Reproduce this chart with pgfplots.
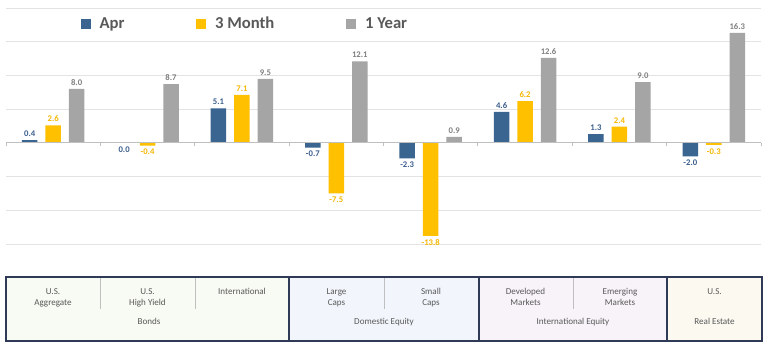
\documentclass[border=0pt]{standalone}
\usepackage{pgfplots}
\pgfplotsset{compat=1.18}
\usepackage{fontspec}
\setmainfont{Carlito}
\definecolor{cApr}{HTML}{3B6591}
\definecolor{c3M}{HTML}{FFC000}
\definecolor{c1Y}{HTML}{A5A5A5}
\definecolor{lApr}{HTML}{3B5E8C}
\definecolor{l3M}{HTML}{F5B800}
\definecolor{l1Y}{HTML}{808080}
\definecolor{gridc}{HTML}{E3E3E3}
\definecolor{zeroc}{HTML}{BFBFBF}
\definecolor{txt}{HTML}{595959}
\definecolor{framec}{HTML}{2E3A56}
\definecolor{sepc}{HTML}{BFBFBF}
\definecolor{bgB}{HTML}{F8FBF3}
\definecolor{bgD}{HTML}{F2F6FC}
\definecolor{bgI}{HTML}{F8F3F9}
\definecolor{bgR}{HTML}{FCF9F1}
\begin{document}
\begin{tikzpicture}
\path[use as bounding box, fill=white] (0pt,0pt) rectangle (576pt,-262.5pt);
\begin{axis}[
  at={(4.5pt,-183pt)}, anchor=south west,
  scale only axis, width=566.25pt, height=177pt,
  xmin=0.5, xmax=8.5, ymin=-15, ymax=20,
  ytick={-15,-10,...,20}, yticklabels={}, xtick=\empty,
  ymajorgrids, grid style={draw=gridc, line width=0.7pt},
  axis line style={draw=none}, major tick style={draw=none},
  clip=false,
  ybar, bar width=11.6pt,
  point meta=explicit symbolic,
  visualization depends on={rawy \as \rawy},
  nodes near coords,
  every node near coord/.append style={font=\bfseries\fontsize{6.5}{7}\selectfont, inner sep=2.5pt,
    /utils/exec={\ifdim\rawy pt<0pt \def\myanchor{north}\else\def\myanchor{south}\fi},
    anchor=\myanchor},
  legend columns=3,
  legend style={at={(0.317,0.932)}, anchor=center, draw=none, fill=none,
    font=\bfseries\fontsize{12.5}{14}\selectfont, text=txt,
    /tikz/every odd column/.append style={column sep=4.5pt},
    /tikz/every even column/.append style={column sep=52pt}},
  legend image code/.code={\fill[#1] (0pt,-3.75pt) rectangle (7.5pt,3.75pt);},
]
\addplot[bar shift=-17.6pt, fill=cApr, draw=none, nodes near coords style={text=lApr}]
  coordinates {(1,0.4) [0.4] (2,-0.01) [0.0] (3,5.1) [5.1] (4,-0.7) [-0.7] (5,-2.3) [-2.3] (6,4.6) [4.6] (7,1.3) [1.3] (8,-2.0) [-2.0]};
\addlegendentry{Apr}
\addplot[bar shift=0pt, fill=c3M, draw=none, nodes near coords style={text=l3M}]
  coordinates {(1,2.6) [2.6] (2,-0.4) [-0.4] (3,7.1) [7.1] (4,-7.5) [-7.5] (5,-13.8) [-13.8] (6,6.2) [6.2] (7,2.4) [2.4] (8,-0.3) [-0.3]};
\addlegendentry{3 Month}
\addplot[bar shift=17.6pt, fill=c1Y, draw=none, nodes near coords style={text=l1Y}]
  coordinates {(1,8.0) [8.0] (2,8.7) [8.7] (3,9.5) [9.5] (4,12.1) [12.1] (5,0.9) [0.9] (6,12.6) [12.6] (7,9.0) [9.0] (8,16.3) [16.3]};
\addlegendentry{1 Year}
\draw[zeroc, line width=0.8pt] (axis cs:0.5,0) -- (axis cs:8.5,0);
\draw[zeroc, line width=0.6pt] (axis cs:0.5,0) -- ++(0pt,-2.5pt);
\draw[zeroc, line width=0.6pt] (axis cs:1.5,0) -- ++(0pt,-2.5pt);
\draw[zeroc, line width=0.6pt] (axis cs:2.5,0) -- ++(0pt,-2.5pt);
\draw[zeroc, line width=0.6pt] (axis cs:3.5,0) -- ++(0pt,-2.5pt);
\draw[zeroc, line width=0.6pt] (axis cs:4.5,0) -- ++(0pt,-2.5pt);
\draw[zeroc, line width=0.6pt] (axis cs:5.5,0) -- ++(0pt,-2.5pt);
\draw[zeroc, line width=0.6pt] (axis cs:6.5,0) -- ++(0pt,-2.5pt);
\draw[zeroc, line width=0.6pt] (axis cs:7.5,0) -- ++(0pt,-2.5pt);
\draw[zeroc, line width=0.6pt] (axis cs:8.5,0) -- ++(0pt,-2.5pt);
\end{axis}
\begin{scope}[x=0.75pt,y=0.75pt]
\fill[bgB] (6,-277) rectangle (289,-341);
\fill[bgD] (289,-277) rectangle (479,-341);
\fill[bgI] (479,-277) rectangle (667,-341);
\fill[bgR] (667,-277) rectangle (762,-341);
\draw[sepc, line width=0.6pt] (100,-277) -- (100,-309);
\draw[sepc, line width=0.6pt] (195,-277) -- (195,-309);
\draw[sepc, line width=0.6pt] (384,-277) -- (384,-309);
\draw[sepc, line width=0.6pt] (573,-277) -- (573,-309);
\draw[framec, line width=0.9pt] (6,-277) rectangle (762,-341);
\draw[framec, line width=0.9pt] (289,-277) -- (289,-341);
\draw[framec, line width=0.9pt] (479,-277) -- (479,-341);
\draw[framec, line width=0.9pt] (667,-277) -- (667,-341);
\begin{scope}[every node/.style={text=txt, font=\fontsize{6.8}{8}\selectfont, anchor=base, inner sep=0pt}]
\node at (53,-294) {U.S.};
\node at (53,-305) {Aggregate};
\node at (147.5,-294) {U.S.};
\node at (147.5,-305) {High Yield};
\node at (242,-294) {International};
\node at (336.5,-294) {Large};
\node at (336.5,-305) {Caps};
\node at (431,-294) {Small};
\node at (431,-305) {Caps};
\node at (525.5,-294) {Developed};
\node at (525.5,-305) {Markets};
\node at (620,-294) {Emerging};
\node at (620,-305) {Markets};
\node at (714.5,-294) {U.S.};
\node at (149,-324) {Bonds};
\node at (384,-324) {Domestic Equity};
\node at (573,-324) {International Equity};
\node at (714.5,-324) {Real Estate};
\end{scope}
\end{scope}
\end{tikzpicture}
\end{document}
